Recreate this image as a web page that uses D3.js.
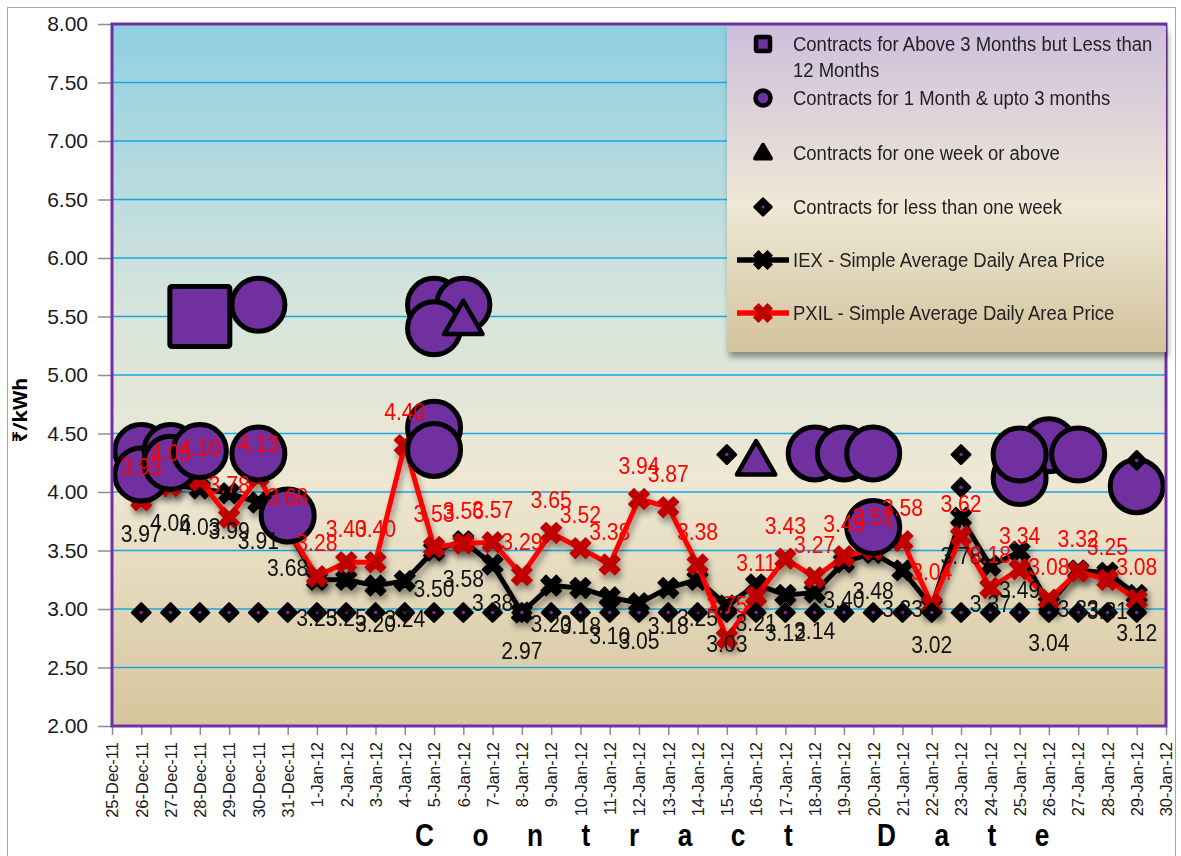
<!DOCTYPE html>
<html>
<head>
<meta charset="utf-8">
<title>Contract prices</title>
<script src="https://d3js.org/d3.v7.min.js"></script>
<style>
  body { margin: 0; background: #fff; }
  svg text { font-family: "Liberation Sans", Arial, sans-serif; }
</style>
</head>
<body>
<svg width="1181" height="856" id="chart"></svg>
<script>
// axis ticks
var tickDates = ["25-Dec-11","26-Dec-11","27-Dec-11","28-Dec-11","29-Dec-11","30-Dec-11","31-Dec-11",
  "1-Jan-12","2-Jan-12","3-Jan-12","4-Jan-12","5-Jan-12","6-Jan-12","7-Jan-12","8-Jan-12","9-Jan-12",
  "10-Jan-12","11-Jan-12","12-Jan-12","13-Jan-12","14-Jan-12","15-Jan-12","16-Jan-12","17-Jan-12",
  "18-Jan-12","19-Jan-12","20-Jan-12","21-Jan-12","22-Jan-12","23-Jan-12","24-Jan-12","25-Jan-12",
  "26-Jan-12","27-Jan-12","28-Jan-12","29-Jan-12","30-Jan-12"];
var yTicks = [2.00,2.50,3.00,3.50,4.00,4.50,5.00,5.50,6.00,6.50,7.00,7.50,8.00];

// trading days (26-Dec-11 .. 29-Jan-12)
var tradeDates = tickDates.slice(1, 36);

var iexPrice = [3.97,4.06,4.03,3.99,3.91,3.68,
  3.25,3.25,3.20,3.24,3.50,3.58,3.38,2.97,3.20,3.18,3.10,3.05,3.18,3.25,3.03,3.21,3.12,3.14,
  3.40,3.48,3.33,3.02,3.78,3.37,3.49,3.04,3.33,3.31,3.12];
var pxilPrice = [3.93,4.05,4.10,3.78,4.13,3.68,
  3.28,3.40,3.40,4.40,3.53,3.56,3.57,3.29,3.65,3.52,3.38,3.94,3.87,3.38,2.75,3.11,3.43,3.27,
  3.45,3.51,3.58,3.04,3.62,3.18,3.34,3.08,3.32,3.25,3.08];

// bilateral contracts: [date, price]
var above3Months = [["28-Dec-11",5.50]];
var oneTo3Months = [["26-Dec-11",4.35],["26-Dec-11",4.15],["27-Dec-11",4.35],["27-Dec-11",4.25],
  ["28-Dec-11",4.35],["30-Dec-11",5.60],["30-Dec-11",4.33],["31-Dec-11",3.80],
  ["5-Jan-12",5.60],["6-Jan-12",5.60],["5-Jan-12",5.40],["5-Jan-12",4.55],["5-Jan-12",4.36],
  ["18-Jan-12",4.33],["19-Jan-12",4.33],["20-Jan-12",4.33],["20-Jan-12",3.70],
  ["26-Jan-12",4.40],["25-Jan-12",4.12],["25-Jan-12",4.32],["27-Jan-12",4.32],["29-Jan-12",4.05]];
var weekOrAbove = [["6-Jan-12",5.47],["16-Jan-12",4.27]];
var lessThanWeek = [["26-Dec-11",2.97],["27-Dec-11",2.97],["28-Dec-11",2.97],["29-Dec-11",2.97],
  ["30-Dec-11",2.97],["31-Dec-11",2.97],["1-Jan-12",2.97],["2-Jan-12",2.97],["3-Jan-12",2.97],
  ["4-Jan-12",2.97],["5-Jan-12",2.97],["6-Jan-12",2.97],["7-Jan-12",2.97],["8-Jan-12",2.97],
  ["9-Jan-12",2.97],["10-Jan-12",2.97],["11-Jan-12",2.97],["12-Jan-12",2.97],["13-Jan-12",2.97],
  ["14-Jan-12",2.97],["15-Jan-12",2.97],["16-Jan-12",2.97],["17-Jan-12",2.97],["18-Jan-12",2.97],
  ["19-Jan-12",2.97],["20-Jan-12",2.97],["21-Jan-12",2.97],["22-Jan-12",2.97],["23-Jan-12",2.97],
  ["24-Jan-12",2.97],["25-Jan-12",2.97],["26-Jan-12",2.97],["27-Jan-12",2.97],["28-Jan-12",2.97],
  ["29-Jan-12",2.97],["15-Jan-12",4.32],["23-Jan-12",4.32],["23-Jan-12",4.04],["29-Jan-12",4.27]];

var legendItems = ["Contracts for Above 3 Months but Less than|12 Months",
  "Contracts for 1 Month & upto 3 months",
  "Contracts for one week or above",
  "Contracts for less than one week",
  "IEX - Simple Average Daily Area Price",
  "PXIL - Simple Average Daily Area Price"];

(function() {
var purple = "#7030a0";
var svg = d3.select("#chart");
var plotL = 112, plotR = 1166, plotT = 24, plotB = 726;

var x = d3.scalePoint().domain(tickDates).range([plotL, plotR]);
var y = d3.scaleLinear().domain([2, 8]).range([plotB, plotT]);

var defs = svg.append("defs");
var pg = defs.append("linearGradient").attr("id", "plotBg").attr("x1", 0).attr("y1", 0).attr("x2", 0).attr("y2", 1);
pg.append("stop").attr("offset", "0%").attr("stop-color", "#8fcfe1");
pg.append("stop").attr("offset", "40%").attr("stop-color", "#d6e4dc");
pg.append("stop").attr("offset", "65%").attr("stop-color", "#eee8d3");
pg.append("stop").attr("offset", "100%").attr("stop-color", "#d6c59c");
var lg = defs.append("linearGradient").attr("id", "legBg").attr("x1", 0).attr("y1", 0).attr("x2", 0).attr("y2", 1);
lg.append("stop").attr("offset", "0%").attr("stop-color", "#cdbfdc");
lg.append("stop").attr("offset", "55%").attr("stop-color", "#efe8d6");
lg.append("stop").attr("offset", "100%").attr("stop-color", "#d3c39d");
var sh = defs.append("filter").attr("id", "shadow").attr("x", "-10%").attr("y", "-10%").attr("width", "130%").attr("height", "140%");
sh.append("feDropShadow").attr("dx", 2).attr("dy", 5).attr("stdDeviation", 3)
  .attr("flood-color", "#000").attr("flood-opacity", 0.4);

// outer frame
svg.append("rect").attr("x", 7.5).attr("y", 7.5).attr("width", 1168).attr("height", 860)
  .attr("fill", "none").attr("stroke", "#a6a6a6");

// plot area
svg.append("rect").attr("x", plotL).attr("y", plotT).attr("width", plotR - plotL).attr("height", plotB - plotT)
  .attr("fill", "url(#plotBg)");

svg.append("g").selectAll("line")
  .data(yTicks.slice(1, -1))
  .enter().append("line")
  .attr("x1", plotL).attr("x2", plotR)
  .attr("y1", function(d) { return y(d); }).attr("y2", function(d) { return y(d); })
  .attr("stroke", "#14a9e6").attr("stroke-width", 1.5);

// axes
var yAxis = svg.append("g")
  .attr("transform", "translate(" + plotL + ",0)")
  .call(d3.axisLeft(y).tickValues(yTicks).tickFormat(d3.format(".2f")).tickSize(14).tickPadding(10));
yAxis.select(".domain").remove();
yAxis.selectAll("line").attr("stroke", "#8c8c8c").attr("stroke-width", 1.5);
yAxis.selectAll("text").attr("font-size", 21).attr("fill", "#1a1a1a");

var xAxis = svg.append("g")
  .attr("transform", "translate(0," + plotB + ")")
  .call(d3.axisBottom(x).tickSize(9).tickPadding(4));
xAxis.select(".domain").remove();
xAxis.selectAll("line").attr("stroke", "#8c8c8c").attr("stroke-width", 1.5);
xAxis.selectAll("text")
  .attr("font-size", 16.5).attr("fill", "#1a1a1a")
  .attr("text-anchor", "end")
  .attr("transform", "rotate(-90)")
  .attr("x", -16).attr("y", 0).attr("dy", "0.35em");

svg.append("text")
  .attr("transform", "translate(27,410) rotate(-90)")
  .attr("text-anchor", "middle")
  .attr("font-size", 20).attr("font-weight", "bold")
  .style("font-family", "'Noto Sans', 'DejaVu Sans', sans-serif")
  .text("₹/kWh");

svg.append("text")
  .attr("transform", "translate(415,846) scale(0.82,1)")
  .attr("font-size", 32).attr("font-weight", "bold")
  .attr("letter-spacing", 47)
  .text("Contract Date");

// lines
var xMark = d3.symbol().type(d3.symbolCross).size(260);
function drawLine(values, lineColor, markColor) {
  var pts = tradeDates.map(function(d, i) { return [x(d), y(values[i])]; });
  var g = svg.append("g").attr("filter", "url(#shadow)");
  g.append("path")
    .attr("d", d3.line()(pts))
    .attr("fill", "none").attr("stroke", lineColor).attr("stroke-width", 5)
    .attr("stroke-linejoin", "round");
  g.selectAll("path.mk").data(pts).enter().append("path")
    .attr("class", "mk")
    .attr("d", xMark)
    .attr("transform", function(p) { return "translate(" + p[0] + "," + p[1] + ") rotate(45)"; })
    .attr("fill", markColor).attr("stroke", markColor).attr("stroke-width", 1.5)
    .attr("stroke-linejoin", "round");
}
drawLine(iexPrice, "#000", "#000");
drawLine(pxilPrice, "#ff0000", "#c00000");

// bilateral markers
svg.append("g").selectAll("rect").data(above3Months).enter().append("rect")
  .attr("x", function(d) { return x(d[0]) - 30; })
  .attr("y", function(d) { return y(d[1]) - 30; })
  .attr("width", 60).attr("height", 60).attr("rx", 2)
  .attr("fill", purple).attr("stroke", "#000").attr("stroke-width", 5);

svg.append("g").selectAll("circle").data(oneTo3Months).enter().append("circle")
  .attr("cx", function(d) { return x(d[0]); })
  .attr("cy", function(d) { return y(d[1]); })
  .attr("r", 26.5)
  .attr("fill", purple).attr("stroke", "#000").attr("stroke-width", 5);

var tri = d3.symbol().type(d3.symbolTriangle).size(640);
svg.append("g").selectAll("path").data(weekOrAbove).enter().append("path")
  .attr("d", tri)
  .attr("transform", function(d) { return "translate(" + x(d[0]) + "," + (y(d[1]) + 3) + ")"; })
  .attr("fill", purple).attr("stroke", "#000").attr("stroke-width", 4.5).attr("stroke-linejoin", "round");

var dia = svg.append("g").selectAll("g").data(lessThanWeek).enter().append("g")
  .attr("transform", function(d) { return "translate(" + x(d[0]) + "," + y(d[1]) + ")"; });
dia.append("rect")
  .attr("x", -6.5).attr("y", -6.5).attr("width", 13).attr("height", 13)
  .attr("transform", "rotate(45)")
  .attr("fill", "#000").attr("stroke", "#000").attr("stroke-width", 2.5).attr("stroke-linejoin", "round");
dia.append("circle").attr("r", 1.8).attr("fill", purple);

// data labels (narrowed like the original)
function labels(values, dy, color) {
  svg.append("g").selectAll("text").data(values).enter().append("text")
    .attr("transform", function(d, i) {
      return "translate(" + x(tradeDates[i]) + "," + (y(d) + dy) + ") scale(0.9,1)";
    })
    .attr("dy", "0.35em").attr("text-anchor", "middle")
    .attr("font-size", 23.5).attr("fill", color)
    .text(d3.format(".2f"));
}
labels(iexPrice, 38, "#111");
labels(pxilPrice, -33, "#ff0000");

// plot border
svg.append("rect").attr("x", plotL).attr("y", plotT).attr("width", plotR - plotL).attr("height", plotB - plotT)
  .attr("fill", "none").attr("stroke", purple).attr("stroke-width", 3);

// legend
var leg = svg.append("g").attr("transform", "translate(727,26)");
leg.append("rect").attr("width", 439).attr("height", 326)
  .attr("fill", "url(#legBg)").attr("filter", "url(#shadow)");
var rowY = [18, 72, 127, 181, 234, 287];
var items = leg.selectAll("g.item").data(legendItems).enter().append("g")
  .attr("class", "item")
  .attr("transform", function(d, i) { return "translate(0," + rowY[i] + ")"; });
items.append("text")
  .attr("transform", "translate(66,0) scale(0.88,1)")
  .attr("font-size", 21).attr("fill", "#222")
  .each(function(d) {
    var t = d3.select(this);
    d.split("|").forEach(function(p, k) {
      t.append("tspan").attr("x", 0).attr("dy", k === 0 ? "0.35em" : "1.24em").text(p);
    });
  });
var sx = 36;
items.filter(function(d, i) { return i === 0; }).append("rect")
  .attr("x", sx - 7).attr("y", -7).attr("width", 14).attr("height", 14).attr("rx", 1.5)
  .attr("fill", purple).attr("stroke", "#000").attr("stroke-width", 4.5);
items.filter(function(d, i) { return i === 1; }).append("circle")
  .attr("cx", sx).attr("r", 7.5)
  .attr("fill", purple).attr("stroke", "#000").attr("stroke-width", 4.5);
items.filter(function(d, i) { return i === 2; }).append("path")
  .attr("d", d3.symbol().type(d3.symbolTriangle).size(110))
  .attr("transform", "translate(" + sx + ",1)")
  .attr("fill", "#000").attr("stroke", "#000").attr("stroke-width", 4).attr("stroke-linejoin", "round");
var ld = items.filter(function(d, i) { return i === 3; });
ld.append("rect").attr("x", -6).attr("y", -6).attr("width", 12).attr("height", 12)
  .attr("transform", "translate(" + sx + ",0) rotate(45)")
  .attr("fill", "#000").attr("stroke", "#000").attr("stroke-width", 2.5).attr("stroke-linejoin", "round");
ld.append("circle").attr("cx", sx).attr("r", 1.6).attr("fill", purple);
[["#000", "#000"], ["#ff0000", "#c00000"]].forEach(function(c, k) {
  var g = items.filter(function(d, i) { return i === 4 + k; });
  g.append("line").attr("x1", sx - 26).attr("x2", sx + 26)
    .attr("stroke", c[0]).attr("stroke-width", 5.5);
  g.append("path").attr("d", d3.symbol().type(d3.symbolCross).size(200))
    .attr("transform", "translate(" + sx + ",0) rotate(45)")
    .attr("fill", c[1]).attr("stroke", c[1]).attr("stroke-width", 1.5);
});
})();
</script>
</body>
</html>
